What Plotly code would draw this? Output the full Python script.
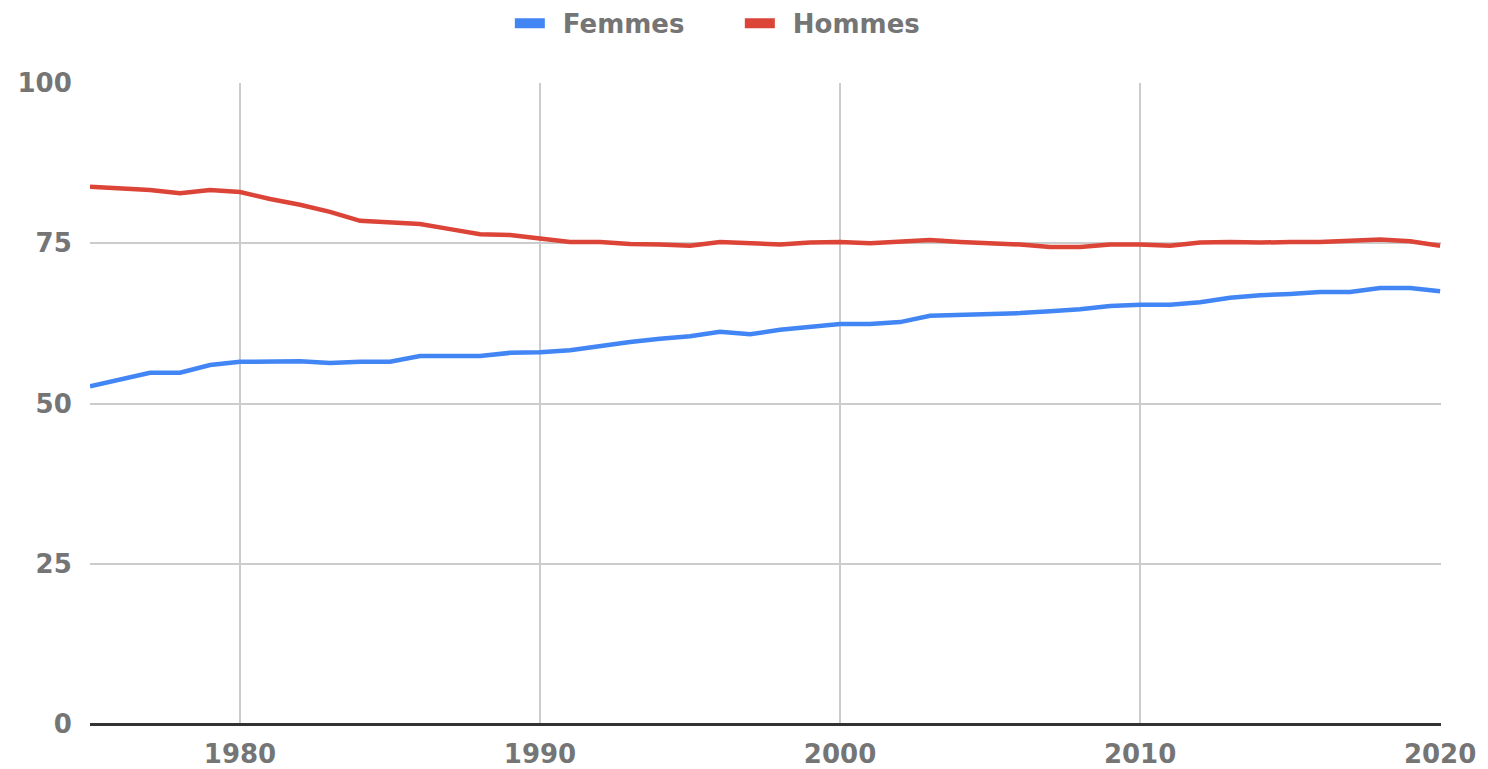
import plotly.graph_objects as go

years = list(range(1975, 2021))
femmes = [52.7, 53.7, 54.8, 54.8, 56.0, 56.5, 56.6, 56.6, 56.3, 56.5,
          56.5, 57.4, 57.4, 57.4, 57.9, 58.0, 58.3, 59.0, 59.6, 60.1,
          60.5, 61.2, 60.8, 61.5, 61.9, 62.4, 62.4, 62.7, 63.7, 63.8,
          64.0, 64.1, 64.4, 64.7, 65.2, 65.4, 65.4, 65.8, 66.5, 66.9,
          67.1, 67.4, 67.4, 68.0, 68.0, 67.5]
hommes = [83.8, 83.6, 83.3, 82.8, 83.3, 83.0, 81.9, 81.0, 79.9, 78.5,
          78.3, 78.0, 77.2, 76.4, 76.3, 75.7, 75.2, 75.2, 74.9, 74.8,
          74.6, 75.2, 75.0, 74.8, 75.1, 75.2, 75.0, 75.2, 75.5, 75.2,
          75.0, 74.8, 74.4, 74.4, 74.8, 74.8, 74.6, 75.1, 75.2, 75.1,
          75.2, 75.2, 75.4, 75.6, 75.3, 74.6]
x_ticks = [1980, 1990, 2000, 2010, 2020]
y_ticks = [0, 25, 50, 75, 100]
series = [("Femmes", femmes, "#4285F4"), ("Hommes", hommes, "#DB4437")]

font_fam = "DejaVu Sans, Liberation Sans, Arial, sans-serif"
grey = "#757575"

fig = go.Figure()
for name, vals, col in series:
    fig.add_trace(go.Scatter(x=years, y=vals, name=name, mode="lines",
                             line=dict(color=col, width=4.5), showlegend=False))
    # legend swatch entry (en space gives the gap between swatch and label)
    fig.add_trace(go.Scatter(x=[None], y=[None], name="\u2002" + name, mode="lines",
                             line=dict(color=col, width=10), showlegend=True))

fig.update_layout(
    width=1480, height=761,
    paper_bgcolor="white", plot_bgcolor="white",
    margin=dict(l=82, r=47, t=75, b=45, autoexpand=False),
    font=dict(family=font_fam, color=grey, size=26),
    legend=dict(orientation="h", x=0.481, xanchor="center", y=1.093, yanchor="middle",
                font=dict(size=26, color=grey, family=font_fam, weight="bold"),
                itemwidth=30, entrywidth=185, entrywidthmode="pixels",
                bgcolor="rgba(0,0,0,0)"),
    showlegend=True,
)
fig.update_xaxes(range=[1975, 2020.03], tickvals=x_ticks,
                 ticktext=[f"<b>{v}</b>" for v in x_ticks],
                 showgrid=True, gridcolor="#cccccc", gridwidth=2,
                 zeroline=False, showline=False, ticks="outside", ticklen=7,
                 tickcolor="rgba(0,0,0,0)",
                 tickfont=dict(size=26, color=grey))
fig.update_yaxes(range=[0, 100], tickvals=y_ticks,
                 ticktext=[f"<b>{v}</b>" for v in y_ticks],
                 showgrid=True, gridcolor="#cccccc", gridwidth=2,
                 zeroline=True, zerolinecolor="#333333", zerolinewidth=3,
                 showline=False, ticks="outside", ticklen=12, tickcolor="rgba(0,0,0,0)",
                 tickfont=dict(size=26, color=grey))

fig.write_html("out.html")
